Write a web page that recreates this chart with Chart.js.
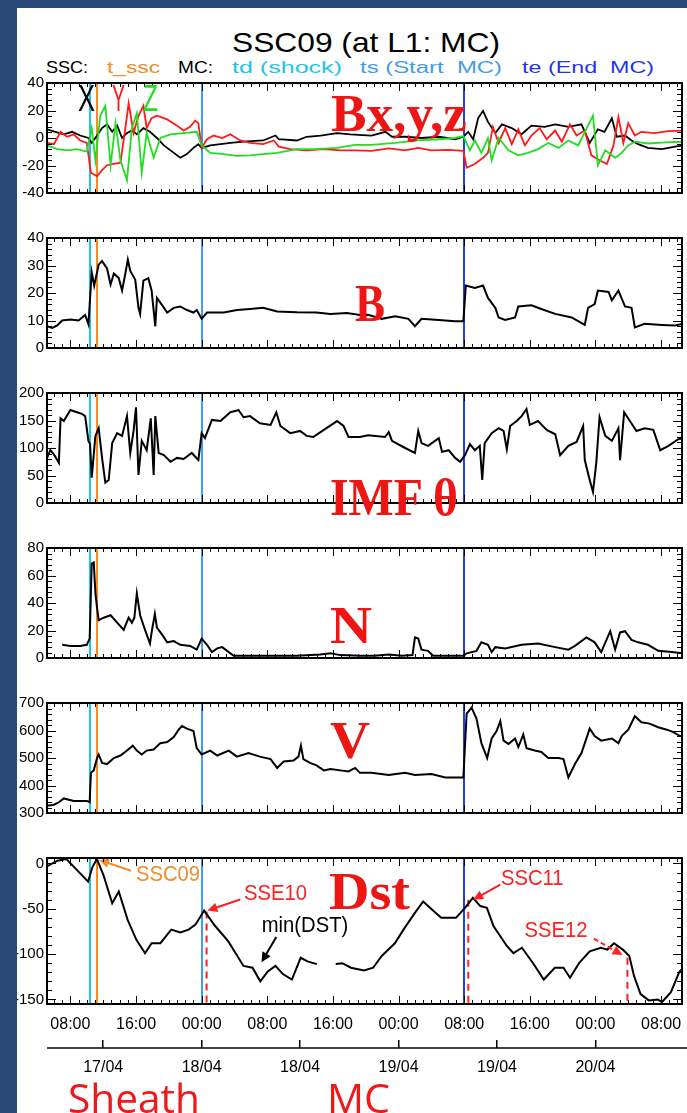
<!DOCTYPE html>
<html>
<head>
<meta charset="utf-8">
<title>SSC09 (at L1: MC)</title>
<script src="https://cdn.jsdelivr.net/npm/chart.js@4.4.1/dist/chart.umd.min.js"></script>
<style>
  html, body { margin: 0; padding: 0; }
  body { position: relative; width: 687px; height: 1113px; overflow: hidden; background: #fff;
         font-family: "Liberation Sans", Arial, sans-serif; color: #000; }
  canvas { position: absolute; left: 0; }
  .txt { position: absolute; white-space: pre; line-height: 1; transform-origin: 0 0; }
  .leg { top: 59px; font-size: 17px; }
  .xyz { top: 80px; font-size: 37px; }
  .tag { font: bold 52px "Liberation Serif", "Times New Roman", serif; color: #ee1515; }
  .foot { top: 1070px; font: 40px "Open Sans", sans-serif; color: #f01818; }
  .frame { position: absolute; background: #284878; z-index: 10; }
</style>
</head>
<body>

<div class="txt" id="title" style="left:232px; top:29px; font-size:28px" data-w="268">SSC09 (at L1: MC)</div>

<div class="txt leg" style="left:46px" data-w="42">SSC:</div>
<div class="txt leg" style="left:107px; color:#f28c28" data-w="53">t_ssc</div>
<div class="txt leg" style="left:178px" data-w="35">MC:</div>
<div class="txt leg" style="left:232px; color:#22c4ee" data-w="110">td (shock)</div>
<div class="txt leg" style="left:360px; color:#3f9cf0" data-w="142">ts (Start  MC)</div>
<div class="txt leg" style="left:522px; color:#2535ee" data-w="132">te (End  MC)</div>

<canvas id="pBxyz"></canvas>
<canvas id="pB"></canvas>
<canvas id="pTheta"></canvas>
<canvas id="pN"></canvas>
<canvas id="pV"></canvas>
<canvas id="pDst"></canvas>

<div class="txt xyz" style="left:78px" data-w="17">X</div>
<div class="txt xyz" style="left:112px; color:#ff1a1a" data-w="13">Y</div>
<div class="txt xyz" style="left:143px; color:#22dd22" data-w="15">Z</div>

<div class="txt tag" style="left:331px; top:84px" data-w="136">Bx,y,z</div>
<div class="txt tag" style="left:355px; top:274px" data-w="30">B</div>
<div class="txt tag" style="left:330px; top:468px" data-w="128">IMF θ</div>
<div class="txt tag" style="left:330px; top:596px" data-w="42">N</div>
<div class="txt tag" style="left:330px; top:711px" data-w="40">V</div>
<div class="txt tag" style="left:329px; top:862px" data-w="81">Dst</div>

<div class="txt foot" style="left:68px" data-w="132">Sheath</div>
<div class="txt foot" style="left:327px" data-w="63">MC</div>

<div class="frame" style="left:0; top:0; width:17px; height:1113px"></div>
<div class="frame" style="left:0; top:0; width:687px; height:8px"></div>

<script>
// Time axis: hours since 17/04 00:00
const xMin = 5.15, xMax = 82.55;
const timeTickHours = [8, 16, 24, 32, 40, 48, 56, 64, 72, 80];
const dateTickHours = [12, 24, 36, 48, 60, 72];
const dateTickLabels = ['17/04', '18/04', '18/04', '19/04', '19/04', '20/04'];

// t_ssc / td / ts / te markers
const eventHours = [10.44, 11.2, 24.05, 56.0];
const eventColors = ['#22c4ee', '#f28c28', '#3f9cf0', '#1f3ff2'];

// [hour, value]
const bx = [[5.16,6.3],[6.17,4.5],[7.2,2.7],[8.2,4.5],[9.2,1.8],[10.2,0],[10.6,-3.6],[11.25,1.8],[11.86,7.2],[12.47,9.9],
  [13.1,4.5],[13.7,9],[14.3,0],[14.9,3.6],[15.5,5.4],[16.1,2.7],[16.9,7.2],[17.7,4.5],[18.55,0],[19.4,-5.4],
  [20.2,-9],[21.4,-14.4],[22.2,-11.7],[23,-7.2],[23.6,-4.5],[24,-7.2],[25.05,-5.4],[26.3,-4.5],[27.5,-3.6],[29.1,-2.7],
  [31.5,-1.8],[33,1.8],[33.4,-0.9],[35.6,-1.8],[36.8,0.9],[38.5,1.8],[40.5,3.6],[42.1,2.7],[44.7,1.8],[46.4,4.5],
  [47.2,0.9],[48.8,0.9],[50.8,0],[52.9,0.9],[54.9,-0.9],[55.9,0.9],[56.5,4.5],[57.1,-0.9],[57.7,14.4],[58.3,19.8],
  [58.9,11.7],[59.8,3.6],[60.6,9.9],[61.8,7.2],[63,2.7],[64.2,9],[65.8,8.1],[67.1,9.9],[68.7,8.1],[70.3,9.9],
  [71.3,-3.6],[72.3,6.3],[73.1,4.5],[74,14.4],[74.6,0.9],[75.6,1.8],[76.4,-1.8],[77.2,-4.5],[78.4,-7.2],[80.1,-8.1],
  [81.7,-6.3],[82.7,-5.4]];
const by = [[5.16,-3.6],[6,-4.5],[6.8,4.5],[7.6,0.9],[8.4,2.7],[9.2,-1.8],[10,-3.6],[10.5,-25.2],[11.25,-27.9],[11.86,-23.4],
  [12.47,-19.8],[13.3,-18.9],[14.1,-18],[14.7,7.2],[15.1,25.2],[15.7,3.6],[16.3,16.2],[16.9,23.4],[17.3,7.2],[17.9,14.4],
  [18.55,16.2],[19.8,13.5],[21,9],[21.8,5.4],[22.6,8.1],[23.2,12.6],[23.6,10.8],[24,-7.2],[24.65,-0.9],[25.45,1.8],
  [26.5,0],[27.5,2.7],[28.7,-1.8],[29.9,-3.6],[31.5,-4.5],[32.8,-1.8],[33.4,-6.3],[34.8,-8.1],[36.8,-9],[38.9,-8.1],
  [40.9,-9],[42.7,-9],[44.7,-9.4],[46.8,-7.6],[48.8,-9],[50.4,-7.2],[52,-9],[54.1,-8.6],[55.9,-9.4],[56.3,-21.6],
  [57.3,-18.9],[58.3,-14.4],[58.9,-10.8],[59.5,8.1],[60.2,-3.6],[61,7.2],[61.8,-4.5],[62.6,6.3],[63.4,-5.4],[64.2,1.8],
  [65.2,7.2],[66.05,-0.9],[67.1,5.4],[67.9,-2.7],[68.9,9.9],[69.7,1.8],[70.7,5.4],[71.5,-12.6],[72.5,-16.2],[73.4,-18.9],
  [74.2,-5.4],[74.8,15.3],[75.4,-3.6],[76,10.8],[76.8,1.8],[77.6,4.5],[79.2,3.6],[80.9,5],[82.7,5.4]];
const bz = [[5.16,-5.4],[6.4,-8.1],[7.6,-9],[8.8,-8.1],[10,-9.9],[10.6,7.2],[11.05,-16.2],[11.65,16.2],[12.26,23.4],[12.9,-19.8],
  [13.5,10.8],[14.1,-16.2],[14.9,-30.6],[15.5,7.2],[16.1,18],[16.7,-25.2],[17.3,3.6],[18.15,-14.4],[18.96,0],[20.2,2.7],
  [21.8,3.6],[23.4,4.5],[24,-5.4],[25.05,-10.8],[26.7,-11.7],[28.3,-13],[29.9,-12.6],[31.5,-11.7],[33.2,-10.8],[35.6,-8.1],
  [38,-8.1],[40.5,-7.2],[42.7,-5],[44.7,-5],[47.6,-3.6],[50.4,-1.8],[52.9,-0.9],[54.9,0],[55.9,1.4],[56.7,-9],
  [57.3,-1.8],[58.1,-10.8],[58.9,0],[59.35,-16.2],[60.2,0],[61.4,-9],[62.6,-12.6],[63.8,-10.8],[65,-8.1],[66.25,-3.6],
  [67.5,-7.2],[68.7,-1.8],[69.9,-5.4],[71.1,9],[71.7,16.2],[72.3,-19.8],[73.2,-9],[74.4,-14.4],[75.2,-10.8],[76,-5.4],
  [76.8,-2.7],[78.4,-4],[80.5,-3.2],[82.7,-2.7]];
const bTotal = [[5.16,7.9],[5.8,7.3],[6.4,8.2],[7,10],[8,10.4],[9,10],[9.8,12],[10.2,8.6],[10.4,18.2],[10.6,27.6],
  [10.9,22.7],[11.45,30.3],[11.86,31.6],[12.47,28.9],[12.9,23.1],[13.3,27.1],[13.9,25.4],[14.3,20.9],[14.7,27.1],[15,32.1],
  [15.3,28],[15.9,24.9],[16.3,14.6],[16.5,12.4],[16.9,24.5],[17.5,25.4],[17.9,20.9],[18.35,7.9],[18.55,18.2],[19.2,15.5],
  [19.8,12.9],[20.6,14.6],[21.4,15.1],[22.2,13.8],[23,12.9],[23.4,13.8],[24,10.6],[24.65,12.9],[26.7,12.9],[28.3,13.8],
  [29.9,14.2],[31.5,14.6],[33.2,13.3],[35.6,13],[38,12.9],[39.7,12.4],[41.7,12.7],[43.3,12],[44.3,12.1],[45.95,10.6],
  [47.6,11.5],[49.2,10.6],[50,7.9],[50.8,10.6],[52.9,10.2],[54.9,9.7],[55.9,9.7],[56.2,22.7],[57.3,21.8],[58.3,22.7],
  [58.9,18.2],[59.8,14.6],[60.2,11.1],[61,10.2],[62.2,11.1],[62.6,15.1],[64.2,15.5],[65.4,14.2],[67.1,12.4],[69.1,11.1],
  [70.7,8.4],[71.1,14.6],[71.9,16],[72.3,20.9],[73.6,20.4],[74,17.3],[74.8,20.9],[75.6,15.1],[76.4,14.6],[76.8,7.5],
  [78,8.8],[80.1,8.4],[81.7,8.2],[82.7,8.8]];
const theta = [[5.16,82],[5.56,96],[6.05,87],[6.6,73],[6.8,154],[7.2,149],[8,169],[8.8,165],[9.4,162],[9.8,158],
  [10.2,113],[10.4,107],[10.6,46],[11.05,122],[11.45,136],[11.86,82],[12.26,37],[12.67,42],[13.1,109],[13.7,127],
  [14.3,122],[14.9,158],[15.3,91],[15.7,131],[16,174],[16.3,51],[16.7,113],[17.3,96],[17.8,154],[18.15,51],
  [18.35,158],[18.76,91],[19.4,87],[20.2,75],[21,82],[21.8,80],[22.8,91],[23.6,78],[24,127],[24.4,118],
  [25.25,151],[26.3,149],[27.5,165],[28.5,169],[29.1,156],[29.9,158],[31.1,145],[32.4,142],[33.1,165],[33.6,140],
  [34.8,127],[36,131],[36.8,122],[37.6,120],[38.9,133],[40.5,149],[41.3,140],[41.9,120],[43.3,120],[44.3,123],
  [46.35,120],[46.8,129],[47.2,113],[48.8,100],[50,91],[50.4,131],[50.8,109],[51.6,104],[52.9,118],[53.3,93],
  [54.1,96],[54.9,82],[55.5,75],[56.1,87],[56.7,107],[57.3,96],[57.9,104],[58.2,42],[58.5,109],[59.35,127],
  [60.2,136],[60.8,131],[61.2,98],[61.6,140],[62.4,149],[63,158],[63.6,171],[64,142],[65,149],[66.05,133],
  [67.1,125],[67.7,87],[68.7,104],[69.7,111],[70.5,140],[70.7,78],[71.3,42],[71.7,20],[72.1,73],[72.5,156],
  [73.2,122],[74,113],[74.8,136],[75,78],[75.5,165],[76.2,149],[77,131],[78,136],[79.05,133],[79.9,96],
  [80.9,104],[82.1,116],[82.9,118]];
const density = [[7,9.6],[8,8.8],[9.2,8.8],[10,9.6],[10.35,14.1],[10.6,68.6],[10.85,69.5],[11.05,47.1],[11.25,36.4],[11.45,27.5],
  [12.06,29.3],[12.9,31.1],[13.7,25.7],[14.5,20.4],[15.1,29.3],[15.5,25.7],[15.8,29.3],[16.1,47.1],[16.5,31.1],[17.1,20.4],
  [17.7,10.5],[17.95,20.4],[18.3,32],[18.55,22.1],[19.2,16.8],[19.8,11.4],[20.6,12.3],[21.4,9.6],[22.6,8.8],[23.4,6.1],
  [24,14.1],[24.65,9.6],[25.25,4.3],[25.9,7],[26.5,7.9],[27.1,5.2],[27.9,1.6],[31.5,1.6],[35.6,1.6],[38.45,2.5],
  [39.7,3.4],[40.9,2.1],[43.3,1.6],[45.1,1.6],[46.8,2.5],[48.4,1.6],[49.7,2.1],[50,15],[50.4,14.1],[50.8,6.1],
  [51.6,5.2],[52.2,1.6],[54.1,1.6],[55.9,1.6],[56.3,3.4],[57.5,5.2],[58.1,11.4],[58.9,9.6],[59.35,4.3],[59.8,7.9],
  [61,7],[63,9.6],[65,10.5],[67.1,7.9],[68.7,6.1],[69.5,8.8],[70.9,15],[71.9,11.4],[72.7,4.3],[73.8,19.5],
  [74.4,6.1],[75,18.6],[75.6,19.5],[76.4,13.2],[77.2,11.4],[78.4,9.6],[79.65,5.2],[81.3,4.3],[82.7,3.4]];
const speed = [[5.16,326],[6,330],[6.6,339],[7.2,353],[8.4,344],[10,344],[10.35,339],[10.5,446],[10.85,455],[11.25,500],
  [11.45,513],[11.86,482],[12.47,478],[13.3,500],[14.1,509],[14.9,527],[15.6,545],[16.1,527],[16.7,513],[17.3,527],
  [18.15,531],[18.96,554],[19.8,558],[20.6,576],[21.2,603],[21.6,616],[22.2,607],[23,598],[23.4,536],[24,513],
  [25.05,527],[25.9,509],[27.3,527],[28.3,505],[29.7,518],[31.1,505],[32.4,496],[33.2,464],[34,487],[35.2,491],
  [35.8,505],[36.1,545],[36.4,496],[37.2,482],[38,473],[38.9,455],[39.7,460],[40.9,455],[41.9,451],[42.7,464],
  [43.3,446],[44.7,446],[46.8,438],[48.8,446],[50,438],[52,442],[53.7,429],[55.9,429],[56.3,661],[56.9,683],
  [57.5,643],[58.1,554],[58.8,500],[59.35,571],[59.95,598],[60.4,634],[60.8,563],[61.4,551],[62.2,571],[62.6,540],
  [63.2,585],[63.6,536],[64.6,527],[65.4,522],[66.25,500],[67.5,500],[68.1,496],[68.7,429],[69.5,478],[70.3,518],
  [71.3,607],[71.9,580],[72.7,563],[74,571],[74.8,554],[75.2,580],[76,603],[76.8,652],[77.6,630],[78.6,625],
  [79.65,612],[80.7,603],[81.5,594],[82.3,580],[82.9,580]];
const dst = [[5.08,-3.6],[6.42,3],[7.49,5],[10.16,-20],[10.69,-4],[11.23,5],[12.03,-12.8],[13.1,-44],[13.9,-31],[14.97,-62],
  [16.03,-84],[17.1,-99],[17.9,-88],[18.97,-88],[20.3,-73],[21.4,-76],[22.4,-73],[23.25,-67.5],[24.3,-52],[25.65,-69],
  [27.25,-86],[29.1,-113],[30.2,-115],[31.15,-130],[32.06,-119],[33,-113],[33.9,-122],[35,-128],[36.07,-104],[36.9,-108],
  [38.04,-111],[39.2,null],[40.34,-111],[41.14,-110],[42.2,-115],[43.8,-118],[44.9,-115],[45.95,-102],[47.55,-88],[48.6,-73],
  [49.95,-55],[51,-42],[52.1,-51],[53.2,-60],[55,-60],[56.1,-49],[57.06,-38],[57.97,-47],[58.77,-49],[59.57,-69],
  [61.2,-91],[62,-99],[63.04,-93],[64.4,-110],[65.7,-128],[67.05,-115],[68.1,-115],[68.9,-126],[70,-110],[71.3,-97],
  [72.66,-93],[73.46,-95],[74.26,-88],[75.33,-95],[76.13,-102],[76.7,-124],[77.5,-144],[78.5,-151],[79.6,-150],[80.1,-153],
  [81.2,-142],[82.2,-120],[83.1,-111]];

// SSE10 / SSC11 / SSE12 dashed drops
const dstDashHours = [24.6, 56.5, 75.9];
const dstDashTops = [-53, -40, -104];

// y axes
const bxyzTicks = [-40, -20, 0, 20, 40];
const bTicks = [0, 10, 20, 30, 40];
const thetaTicks = [0, 50, 100, 150, 200];
const nTicks = [0, 20, 40, 60, 80];
const vTicks = [300, 400, 500, 600, 700];
const dstTicks = [0, -50, -100, -150];
const dstMin = -155, dstMax = 6;

// arrows + labels in the Dst panel (data units)
const dstNotes = [
  { text: 'SSC09', color: '#f28c28', at: [19.9, -12.5], from: [15.4, -8], to: [11.5, 3.8] },
  { text: 'SSE10', color: '#ff2020', at: [33.0, -34], from: [28.7, -39.7], to: [24.7, -52] },
  { text: 'min(DST)', color: '#000000', at: [36.6, -69], from: [33.1, -81], to: [31.3, -109] },
  { text: 'SSC11', color: '#ff2020', at: [64.3, -17], from: [60.4, -23.4], to: [57.1, -40] },
  { text: 'SSE12', color: '#ff2020', at: [67.2, -74.5], from: [71.8, -83], to: [75.3, -101], dash: true }
];

Chart.defaults.font.family = '"Liberation Sans", Arial, sans-serif';
Chart.defaults.color = '#000';

const toPts = arr => arr.map(p => ({ x: p[0], y: p[1] }));

// IDL-like box: inward ticks, frame, event lines
const idlBox = {
  id: 'idlBox',
  beforeDatasetsDraw(chart) {
    const { ctx, chartArea: a } = chart;
    const x = chart.scales.x;
    ctx.save();
    ctx.lineWidth = 2;
    eventHours.forEach((h, i) => {
      const px = Math.round(x.getPixelForValue(h));
      ctx.strokeStyle = eventColors[i];
      ctx.beginPath();
      ctx.moveTo(px, a.top);
      ctx.lineTo(px, a.bottom);
      ctx.stroke();
    });
    ctx.restore();
  },
  afterDraw(chart) {
    const { ctx, chartArea: a } = chart;
    const x = chart.scales.x, y = chart.scales.y;
    ctx.save();
    ctx.strokeStyle = '#000';
    ctx.lineWidth = 1;
    ctx.beginPath();
    for (let h = Math.ceil(xMin); h <= xMax; h++) {
      const px = Math.round(x.getPixelForValue(h)) + 0.5;
      const len = h % 8 === 0 ? 8 : 4;
      ctx.moveTo(px, a.top); ctx.lineTo(px, a.top + len);
      ctx.moveTo(px, a.bottom); ctx.lineTo(px, a.bottom - len);
    }
    const major = y.ticks.map(t => t.value);
    const step = Math.abs(major[1] - major[0]) / 5;
    for (let k = Math.ceil(y.min / step); k <= Math.floor(y.max / step); k++) {
      const v = k * step;
      const py = Math.round(y.getPixelForValue(v)) + 0.5;
      const len = major.some(m => Math.abs(m - v) < 1e-6) ? 9 : 5;
      ctx.moveTo(a.left, py); ctx.lineTo(a.left + len, py);
      ctx.moveTo(a.right, py); ctx.lineTo(a.right - len, py);
    }
    ctx.stroke();
    ctx.lineWidth = 2;
    ctx.strokeRect(a.left, a.top, a.right - a.left, a.bottom - a.top);
    const d = chart.scales.xDate;
    if (d) {
      ctx.lineWidth = 1.5;
      ctx.beginPath();
      ctx.moveTo(a.left, d.top + 8);
      ctx.lineTo(chart.width, d.top + 8);
      ctx.stroke();
    }
    ctx.restore();
  }
};

const dstNotePlugin = {
  id: 'dstNotes',
  afterDatasetsDraw(chart) {
    const { ctx } = chart;
    const x = chart.scales.x, y = chart.scales.y;
    ctx.save();
    dstNotes.forEach(n => {
      const x1 = x.getPixelForValue(n.from[0]), y1 = y.getPixelForValue(n.from[1]);
      const x2 = x.getPixelForValue(n.to[0]), y2 = y.getPixelForValue(n.to[1]);
      const ang = Math.atan2(y2 - y1, x2 - x1);
      ctx.strokeStyle = n.color;
      ctx.fillStyle = n.color;
      ctx.lineWidth = 2;
      ctx.setLineDash(n.dash ? [5, 3] : []);
      ctx.beginPath();
      ctx.moveTo(x1, y1);
      ctx.lineTo(x2 - 8 * Math.cos(ang), y2 - 8 * Math.sin(ang));
      ctx.stroke();
      ctx.setLineDash([]);
      ctx.beginPath();
      ctx.moveTo(x2, y2);
      ctx.lineTo(x2 - 11 * Math.cos(ang - 0.45), y2 - 11 * Math.sin(ang - 0.45));
      ctx.lineTo(x2 - 11 * Math.cos(ang + 0.45), y2 - 11 * Math.sin(ang + 0.45));
      ctx.closePath();
      ctx.fill();
      ctx.save();
      ctx.translate(x.getPixelForValue(n.at[0]), y.getPixelForValue(n.at[1]));
      ctx.scale(0.92, 1);
      ctx.font = '22px "Liberation Sans", Arial, sans-serif';
      ctx.textAlign = 'center';
      ctx.textBaseline = 'middle';
      ctx.fillText(n.text, 0, 0);
      ctx.restore();
    });
    ctx.restore();
  }
};

const plotH = 148;

function makePanel(id, top, yMin, yMax, yTicks, datasets, isBottom) {
  const canvas = document.getElementById(id);
  canvas.width = 687;
  canvas.height = plotH + 10 + (isBottom ? 86 : 10);
  canvas.style.top = (top - 10) + 'px';

  const scales = {
    x: {
      type: 'linear', min: xMin, max: xMax, display: isBottom, weight: 0,
      grid: { display: false, drawTicks: false }, border: { display: false },
      afterBuildTicks: s => { s.ticks = timeTickHours.map(v => ({ value: v })); },
      afterFit: s => { s.height = 36; s.paddingLeft = 0; s.paddingRight = 0; },
      ticks: { maxRotation: 0, autoSkip: false, padding: 11, font: { size: 16 },
               callback: v => String(v % 24).padStart(2, '0') + ':00' }
    },
    y: {
      type: 'linear', min: yMin, max: yMax,
      grid: { display: false, drawTicks: false }, border: { display: false },
      afterBuildTicks: s => { s.ticks = yTicks.map(v => ({ value: v })); },
      afterFit: s => { s.width = 47; },
      ticks: { padding: 3, font: { size: 15 } }
    }
  };
  if (isBottom) {
    scales.xDate = {
      type: 'linear', position: 'bottom', min: xMin, max: xMax, weight: 1,
      grid: { display: true, drawOnChartArea: false, drawTicks: true, tickLength: 8, color: '#000', lineWidth: 1.5 },
      border: { display: false },
      afterBuildTicks: s => { s.ticks = dateTickHours.map(v => ({ value: v })); },
      afterFit: s => { s.height = 50; s.paddingLeft = 0; s.paddingRight = 0; },
      ticks: { maxRotation: 0, autoSkip: false, padding: 10, font: { size: 16 },
               callback: (v, i) => dateTickLabels[i] }
    };
  }

  return new Chart(canvas, {
    type: 'line',
    data: { datasets: datasets.map(d => Object.assign({
      xAxisID: 'x', yAxisID: 'y', borderWidth: 2, pointRadius: 0, tension: 0, spanGaps: false, fill: false
    }, d)) },
    options: {
      responsive: false,
      animation: false,
      layout: { padding: { top: 10, bottom: isBottom ? 0 : 10, left: 0, right: 5 } },
      plugins: { legend: { display: false }, tooltip: { enabled: false }, title: { display: false } },
      scales
    },
    plugins: isBottom ? [idlBox, dstNotePlugin] : [idlBox]
  });
}

// texts scaled to the widths of the original lettering
document.querySelectorAll('[data-w]').forEach(el => {
  const w = el.getBoundingClientRect().width;
  if (w > 0) el.style.transform = 'scaleX(' + (+el.dataset.w / w) + ')';
});

makePanel('pBxyz', 81, -40, 40, bxyzTicks, [
  { data: toPts(bz), borderColor: '#22dd22', borderWidth: 1.8 },
  { data: toPts(by), borderColor: '#ff1a1a', borderWidth: 1.8 },
  { data: toPts(bx), borderColor: '#000000', borderWidth: 1.8 }
], false);
makePanel('pB', 236, 0, 40, bTicks, [{ data: toPts(bTotal), borderColor: '#000' }], false);
makePanel('pTheta', 391, 0, 200, thetaTicks, [{ data: toPts(theta), borderColor: '#000' }], false);
makePanel('pN', 546, 0, 80, nTicks, [{ data: toPts(density), borderColor: '#000' }], false);
makePanel('pV', 701, 300, 700, vTicks, [{ data: toPts(speed), borderColor: '#000' }], false);

const dashSets = dstDashHours.map((h, i) => ({
  data: [{ x: h, y: dstDashTops[i] }, { x: h, y: dstMin }],
  borderColor: '#ff2020', borderDash: [7, 5], borderWidth: 2
}));
makePanel('pDst', 856, dstMin, dstMax, dstTicks,
  [{ data: toPts(dst), borderColor: '#000' }].concat(dashSets), true);
</script>
</body>
</html>
